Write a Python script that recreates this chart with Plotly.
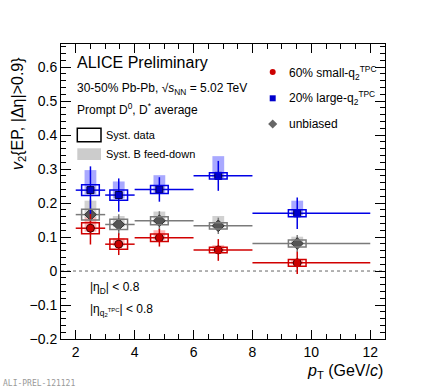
import plotly.graph_objects as go

# ---------------- data ----------------
bin_lo = [2, 3, 4, 6, 8]
bin_hi = [3, 4, 6, 8, 12]
pt_mean = [2.5, 3.46, 4.84, 6.84, 9.52]

v2_large = [0.238, 0.2235, 0.240, 0.280, 0.170]
stat_large = [0.070, 0.049, 0.036, 0.044, 0.046]
syst_large = [0.016, 0.015, 0.012, 0.009, 0.010]
fd_up_large = [0.059, 0.040, 0.042, 0.058, 0.037]
fd_dn_large = [0.012, 0.010, 0.010, 0.006, 0.006]

v2_unb = [0.166, 0.137, 0.148, 0.133, 0.081]
stat_unb = [0.045, 0.030, 0.028, 0.024, 0.025]
syst_unb = [0.016, 0.015, 0.012, 0.009, 0.010]
fd_up_unb = [0.041, 0.025, 0.027, 0.029, 0.020]
fd_dn_unb = [0.010, 0.008, 0.008, 0.006, 0.006]

v2_small = [0.126, 0.079, 0.098, 0.062, 0.024]
stat_small = [0.048, 0.032, 0.026, 0.032, 0.033]
syst_small = [0.016, 0.015, 0.011, 0.008, 0.010]
fd_up_small = [0.031, 0.018, 0.022, 0.014, 0.010]
fd_dn_small = [0.010, 0.006, 0.006, 0.005, 0.004]

x_ticks = [2, 4, 6, 8, 10, 12]
y_ticks = [-0.2, -0.1, 0, 0.1, 0.2, 0.3, 0.4, 0.5, 0.6]
y_tick_text = ["\u22120.2", "\u22120.1", "0", "0.1", "0.2", "0.3", "0.4", "0.5", "0.6"]

# ---------------- layout geometry ----------------
W, H = 429, 391
L, R, T, B = 61, 385, 44, 339
XR = [1.5, 12.5]
YR = [-0.2, 0.668]
FONT = "Liberation Sans, Arial, Helvetica, sans-serif"

def px(x):
    return (x - L) / (R - L)

def py(y):
    return (B - y) / (B - T)

BLUE = "#0000e6"
RED = "#d10000"
GRAY = "#7a7a7a"

series = [
    dict(name="unb", v=v2_unb, st=stat_unb, sy=syst_unb, fu=fd_up_unb, fd=fd_dn_unb,
         line=GRAY, fill="rgba(140,140,140,0.40)", mcol="#555555", mline="#333333",
         symbol="diamond", size=9),
    dict(name="small", v=v2_small, st=stat_small, sy=syst_small, fu=fd_up_small, fd=fd_dn_small,
         line=RED, fill="rgba(255,40,40,0.35)", mcol="#cc0000", mline="#440000",
         symbol="circle", size=8),
    dict(name="large", v=v2_large, st=stat_large, sy=syst_large, fu=fd_up_large, fd=fd_dn_large,
         line=BLUE, fill="rgba(40,40,255,0.40)", mcol="#0000cc", mline="#000044",
         symbol="square", size=7),
]

SYS_HW = 0.3   # half-width of syst box (pT units)
FD_HW = 0.2    # half-width of feed-down box

fig = go.Figure()
shapes = []

# feed-down shaded boxes
for s in series:
    for i in range(len(pt_mean)):
        shapes.append(dict(type="rect", xref="x", yref="y", layer="below",
                           x0=pt_mean[i] - FD_HW, x1=pt_mean[i] + FD_HW,
                           y0=s["v"][i] - s["fd"][i], y1=s["v"][i] + s["fu"][i],
                           fillcolor=s["fill"], line=dict(width=0)))
# syst open boxes
for s in series:
    for i in range(len(pt_mean)):
        shapes.append(dict(type="rect", xref="x", yref="y", layer="above",
                           x0=pt_mean[i] - SYS_HW, x1=pt_mean[i] + SYS_HW,
                           y0=s["v"][i] - s["sy"][i], y1=s["v"][i] + s["sy"][i],
                           fillcolor="rgba(0,0,0,0)", line=dict(color=s["line"], width=1.5)))

# zero line (dotted)
shapes.append(dict(type="line", xref="paper", yref="y", x0=0, x1=1, y0=0, y1=0,
                   line=dict(color="#666666", width=1, dash="dot"), layer="below"))

# stat points with bin-width horizontal bars
for s in series:
    fig.add_trace(go.Scatter(
        x=pt_mean, y=s["v"], mode="markers", showlegend=False,
        marker=dict(symbol=s["symbol"], size=s["size"], color=s["mcol"],
                    line=dict(color=s["mline"], width=1)),
        error_x=dict(type="data", symmetric=False,
                     array=[h - x for h, x in zip(bin_hi, pt_mean)],
                     arrayminus=[x - l for l, x in zip(bin_lo, pt_mean)],
                     color=s["line"], thickness=1.5, width=0),
        error_y=dict(type="data", array=s["st"], color=s["line"], thickness=1.5, width=0),
    ))

# legend markers on an overlay pixel axis
leg_x = [272.7, 272.7, 272.7]
leg_y = [72, 98.3, 124]
leg_sym = ["circle", "square", "diamond"]
leg_col = ["#cc0000", "#0000cc", "#666666"]
leg_size = [6, 6, 7]
for xx, yy, sym, c, sz in zip(leg_x, leg_y, leg_sym, leg_col, leg_size):
    fig.add_trace(go.Scatter(x=[xx], y=[yy], xaxis="x2", yaxis="y2", mode="markers",
                             showlegend=False, hoverinfo="skip",
                             marker=dict(symbol=sym, size=sz, color=c, line=dict(width=0))))

# legend boxes
shapes.append(dict(type="rect", xref="paper", yref="paper", x0=px(77.3), x1=px(101),
                   y0=py(141.7), y1=py(128.3), line=dict(color="black", width=1.5),
                   fillcolor="rgba(0,0,0,0)"))
shapes.append(dict(type="rect", xref="paper", yref="paper", x0=px(77.3), x1=px(101),
                   y0=py(160), y1=py(148.3), line=dict(width=0),
                   fillcolor="#cccccc"))

ann = []
def text(x, y, t, size, xanchor="left", yanchor="middle", color="black", family=FONT, **kw):
    ann.append(dict(xref="paper", yref="paper", x=px(x), y=py(y), text=t, showarrow=False,
                    xanchor=xanchor, yanchor=yanchor, font=dict(size=size, color=color, family=family),
                    **kw))

text(75, 62, "ALICE Preliminary", 16)
text(75, 89, "30-50% Pb-Pb, \u221A<i>s</i><sub>NN</sub> = 5.02 TeV", 12)
text(75, 109, "Prompt D<sup>0</sup>, D<sup>*</sup> average", 12)
text(104, 135, "Syst. data", 11)
text(104, 154, "Syst. B feed-down", 11)
text(287, 73, "60% small-q<sub>2</sub><sup>TPC</sup>", 12)
text(287, 98, "20% large-q<sub>2</sub><sup>TPC</sup>", 12)
text(287, 124, "unbiased", 12)
text(88, 288, "|\u03b7<sub>D</sub>| < 0.8", 12)
text(88, 310, "|\u03b7<sub>q<sub>2</sub><sup>TPC</sup></sub>| < 0.8", 12)
text(385, 371, "<i>p</i><sub>T</sub> (GeV/<i>c</i>)", 16, xanchor="right")
text(1, 383, "ALI-PREL-121121", 8, color="#999999", family="DejaVu Sans Mono, monospace")
text(18, 114, "<i>v</i><sub>2</sub>{EP, |\u0394\u03b7|>0.9}", 16, xanchor="center", textangle=-90)

fig.update_layout(
    width=W, height=H,
    margin=dict(l=L, r=W - R, t=T, b=H - B, pad=0),
    paper_bgcolor="white", plot_bgcolor="white",
    showlegend=False,
    shapes=shapes, annotations=ann,
    font=dict(family=FONT, size=14, color="black"),
    xaxis=dict(range=XR, tickvals=x_ticks, ticks="inside", ticklen=9, tickwidth=1,
               tickcolor="black", showline=True, linecolor="black", linewidth=1,
               mirror="allticks", showgrid=False, zeroline=False,
               tickfont=dict(size=14, family=FONT),
               minor=dict(dtick=0.5, tick0=0, ticks="inside", ticklen=5, tickcolor="black", showgrid=False)),
    yaxis=dict(range=YR, tickvals=y_ticks, ticktext=y_tick_text, ticks="inside", ticklen=10,
               tickwidth=1, tickcolor="black", showline=True, linecolor="black", linewidth=1,
               mirror="allticks", showgrid=False, zeroline=False,
               tickfont=dict(size=14, family=FONT),
               minor=dict(dtick=0.02, tick0=0, ticks="inside", ticklen=5, tickcolor="black", showgrid=False)),
    xaxis2=dict(range=[L, R], overlaying="x", visible=False, domain=[0, 1], anchor="y2"),
    yaxis2=dict(range=[B, T], overlaying="y", visible=False, domain=[0, 1], anchor="x2"),
)

fig.write_html("out.html", config={"displayModeBar": False, "staticPlot": True},
               post_script="document.body.style.margin='0px';document.body.style.padding='0px';"
                           "document.documentElement.style.overflow='hidden';")
